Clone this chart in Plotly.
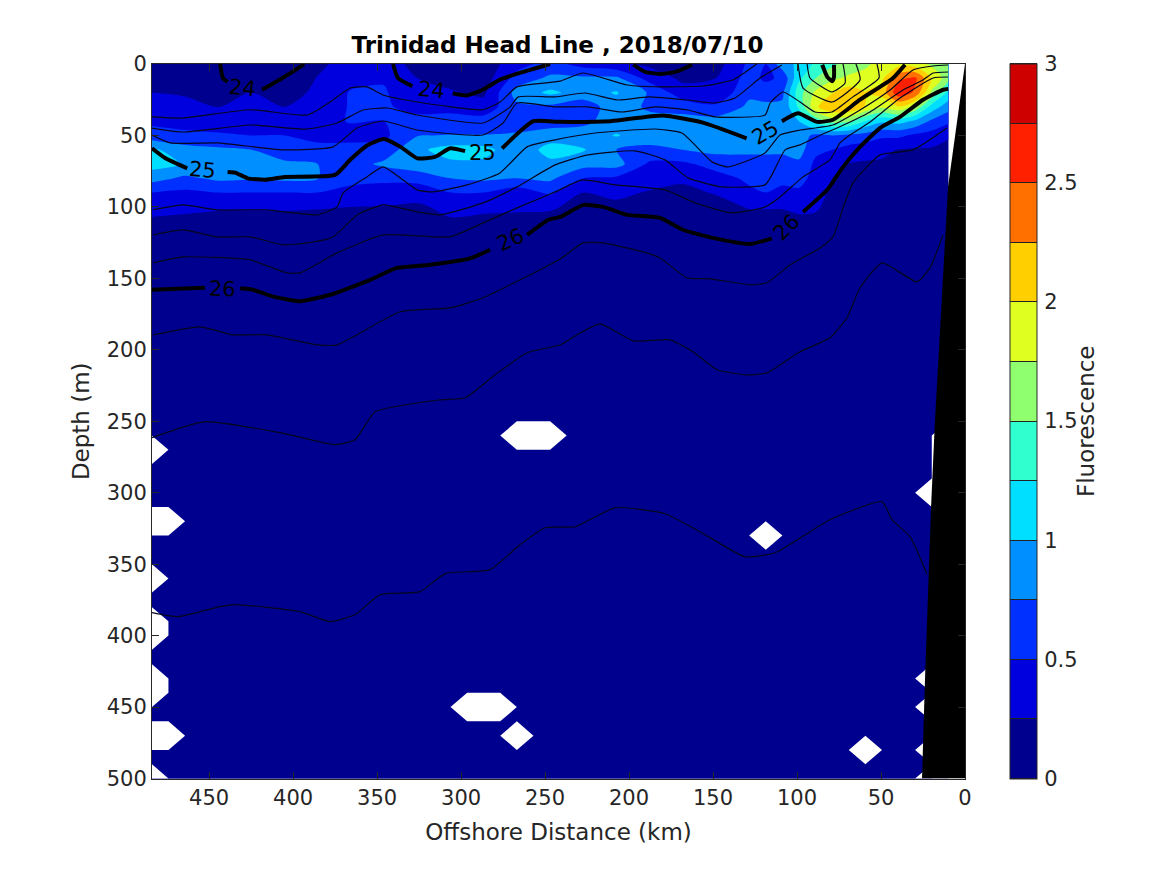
import plotly.graph_objects as go

FONT = "DejaVu Sans"
INK = "#262626"

depths = [0, 10, 20, 30, 40, 50, 60, 70, 80, 90, 100, 110, 120, 130, 150, 500]
station_km = [484.1, 464.4, 444.6, 424.8, 405.1, 385.3, 365.6, 345.8, 326.0, 306.3, 286.5, 266.8, 247.0,
              227.2, 207.5, 187.7, 168.0, 148.2, 128.4, 118.6, 108.7, 98.8, 88.9, 79.0, 69.2, 59.3, 49.4,
              39.5, 29.6, 19.8, 9.9]
deep_fluor = [0.12, 0.1]
fluor_by_station = [
    [.12, .15, .25, .35, .45, .6, 1.05, 1.1, .85, .5, .32, .22, .15, .12],
    [.1, .12, .22, .33, .42, .55, .85, .98, .7, .45, .3, .2, .15, .12],
    [.1, .1, .15, .24, .42, .52, .8, .98, .8, .5, .27, .2, .15, .12],
    [.1, .12, .25, .35, .42, .5, .75, .9, .78, .5, .27, .2, .15, .12],
    [.1, .1, .15, .25, .4, .5, .6, .8, .8, .5, .27, .2, .15, .12],
    [.2, .26, .3, .35, .4, .45, .55, .75, .76, .5, .26, .2, .15, .12],
    [.35, .42, .52, .52, .52, .4, .6, .65, .55, .45, .25, .2, .15, .12],
    [.4, .48, .52, .52, .5, .45, .6, .8, .55, .4, .24, .2, .15, .12],
    [.15, .25, .35, .45, .55, .74, .95, .9, .6, .33, .22, .2, .15, .12],
    [.1, .15, .28, .42, .6, .76, 1.1, .95, .75, .5, .3, .23, .15, .12],
    [.1, .12, .2, .35, .6, .76, 1.08, .95, .8, .5, .28, .22, .15, .12],
    [.4, .6, .85, .7, .55, .8, .85, .85, .75, .35, .28, .2, .15, .12],
    [.6, .8, 1.05, .7, .6, .9, 1.08, .95, .8, .55, .27, .2, .15, .12],
    [.4, .8, .9, .6, .7, .85, 1.02, .85, .5, .25, .2, .18, .15, .12],
    [.3, .8, 1.02, .9, .85, 1.02, .75, .85, .45, .3, .2, .18, .15, .12],
    [.2, .4, .72, .7, .85, .85, .7, .45, .35, .23, .2, .18, .14, .12],
    [.1, .2, .35, .65, .85, .9, .75, .45, .27, .22, .2, .18, .14, .12],
    [.15, .25, .3, .55, .85, .85, .82, .6, .4, .26, .2, .18, .14, .12],
    [.55, .6, .7, .8, .85, .9, .8, .65, .55, .45, .26, .2, .15, .12],
    [.5, .45, .65, .8, .9, .85, .8, .65, .6, .5, .26, .2, .15, .12],
    [.9, .55, .7, .8, .9, .95, .8, .65, .6, .4, .26, .2, .15, .12],
    [1.05, 1.2, 1.4, 1.3, 1.0, .85, .85, .7, .6, .45, .3, .2, .15, .12],
    [1.3, 1.5, 1.8, 1.95, 1.35, .7, .55, .45, .4, .35, .28, .2, .15, .12],
    [1.45, 1.7, 1.98, 2.25, 1.6, .75, .5, .3, .25, .2, .18, .16, .14, .12],
    [1.6, 1.8, 2.15, 2.25, 1.55, .7, .4, .24, .2, .18, .16, .15, .14, .12],
    [1.7, 1.85, 2.0, 1.98, 1.25, .65, .35, .22, .2, .18, .16, .15, .14, .12],
    [1.85, 1.95, 2.1, 1.8, 1.05, .55, .3, .22, .2, .18, .16, .15, .13, .12],
    [1.9, 2.45, 2.7, 1.98, 1.1, .55, .24, .2, .18, .16, .15, .14, .12, .12],
    [1.85, 2.55, 2.45, 1.7, .95, .45, .22, .2, .18, .16, .15, .14, .12, .12],
    [1.7, 1.98, 1.7, 1.15, .7, .4, .22, .2, .18, .16, .14, .13, .12, .12],
    [1.55, 1.6, 1.2, .85, .55, .27, .2, .18, .16, .15, .14, .13, .12, .12],
]

level_colors = ["rgb(0,0,143)", "rgb(0,0,223)", "rgb(0,48,255)", "rgb(0,143,255)", "rgb(0,223,255)",
                "rgb(48,255,207)", "rgb(143,255,112)", "rgb(223,255,32)", "rgb(255,207,0)",
                "rgb(255,112,0)", "rgb(255,32,0)", "rgb(207,0,0)"]

missing_runs = [
    (484.1, 484.1, 270, 270), (484.1, 474.2, 320, 320), (484.1, 484.1, 360, 360), (484.1, 484.1, 390, 400),
    (484.1, 484.1, 430, 440), (484.1, 474.2, 470, 470), (484.1, 484.1, 500, 500),
    (266.8, 247.0, 260, 260), (296.4, 276.7, 450, 450), (266.8, 266.8, 470, 470),
    (118.6, 118.6, 330, 330), (59.3, 59.3, 480, 480),
    (19.8, 19.8, 300, 300), (19.8, 19.8, 430, 430), (19.8, 19.8, 450, 450),
    (19.8, 19.8, 480, 480), (19.8, 19.8, 500, 500), (9.9, 9.9, 260, 500),
]
cell_km = 9.88
cell_m = 10

bottom_km = [0, 10.1, 17.9, 20.2, 23.8, 25.6, 0]
bottom_depth = [0, 86, 250, 310, 430, 500, 500]

s24a_km = [443.5, 441.7, 439, None, 418.5, 408, 394.6, 393.5]
s24a_d = [0, 10, 12.5, None, 18, 11, 1, 0]
s24b_km = [340.5, 337.5, 329, None, 305, 296.5, 287, 277, 263, 247]
s24b_d = [0, 10, 15.5, None, 20.5, 22, 18, 11, 5.5, 0]
s24c_km = [197.5, 190.5, 180.5, 171, 162.5]
s24c_d = [0.5, 5.5, 7, 5, 0.5]
s24d_km = [85, 82, 79, 78, 78]
s24d_d = [0.5, 9, 12, 9, 0.5]
s25_km = [484, 476, 463, None, 439, 434.5, 427, 416.5, 405, 375, 366, 356, 346, 336, 326, 315.5, 306.5, 297.6, None,
          275.6, 257, 241, 211, 180, 156, 130, None, 109, 99.4, 88, 78.6, 62.5, 43, 35.7]
s25_d = [59, 66, 73, None, 75.5, 76, 80, 81, 79, 77.6, 67, 57, 52.5, 58, 66, 65, 59, 61, None,
         59, 40, 40.5, 40, 36, 41, 52, None, 40, 34.5, 40.5, 39, 25, 10, 0.5]
s26_km = [484, 461, 452.5, None, 431.5, 424, 411, 396, 378, 354, 339, 318.5, 294.6, 282.7, None, 260.7, 248, 241,
          227, 215.5, 201, 181.5, 168, 150, 128, 115, None, 96.4, 82, 72.6, 62.5, 50.6, 38.7, 25, 13, 10]
s26_d = [158, 157, 156.5, None, 157, 158, 163, 166, 161.5, 151, 143, 140.5, 136, 130, None, 119.6, 109, 107,
         98.6, 100, 105.6, 107.7, 116, 121.7, 126, 122, None, 103.5, 88, 72, 58, 44.8, 37, 25, 18, 17.5]

t1_km = [484, 465.5, 425.6, 391.7, 378, 366, 356, 346.4, 326, 287, 276.8, 266.7, 241, 227.4, 201, 181.5, 156, 138, 124]
t1_d = [37, 37.8, 32, 35.7, 26.6, 16.8, 16, 21.7, 26.6, 32, 26.6, 16, 12, 6.3, 14.7, 16, 15.4, 11, 0]
t2_km = [484, 465.5, 425.6, 391.7, 373.8, 358.3, 344, 326.2, 286.9, 270.8, 266, 244, 226.2, 206.5, 188.7, 164.9, 148.8,
         136.9, 122, 109]
t2_d = [44.8, 47.6, 42.7, 45.5, 41.3, 32.2, 30.8, 35.7, 41.3, 30, 23, 23, 20.3, 25.2, 23, 25.2, 27.3, 23.8, 9.8, 0.7]
t3_km = [484, 473.2, 445.2, 406, 376.2, 361.9, 346.4, 326.2, 286.9, 275, 266.7, 244, 224.4, 204.2, 184.5, 164.9, 148.8,
         119, 116, 108.3, 98.2, 89.3, 79.2, 66.7, 51.2, 52.4]
t3_d = [49.7, 55.2, 55.2, 60.1, 58, 44.8, 39.9, 46.2, 49.7, 41.3, 27.3, 30, 30, 33.6, 30, 32.2, 37, 35.7, 27.3, 19.6,
        26.6, 33.6, 33.6, 23, 9.8, 0]
t4_km = [483.3, 465.5, 445.2, 415.5, 385.7, 373.8, 370.2, 356, 346.4, 326.2, 316.7, 296.4, 276.8, 260.7, 244, 220.2,
         184.5, 168.5, 150.6, 141, 119, 110.1, 98.2, 78.6, 62.5, 44.6, 31, 19, 10.1]
t4_d = [102, 98.6, 102.1, 102.1, 105.6, 100, 90.2, 79, 72, 88.1, 89.5, 84.6, 76.2, 58, 53.1, 48.3, 45.5, 48.3, 68.5,
        72, 62.2, 49.7, 46.2, 42.7, 32.2, 18.2, 4.2, 1.4, 0.7]
t5_km = [483.3, 465.5, 445.2, 425.6, 406, 391.7, 376.2, 361.9, 346.4, 326.2, 312.5, 286.9, 266.7, 244, 224.4, 196.4,
         178.6, 164.9, 144.6, 119, 114.3, 107.1, 98.2, 83.3, 76.2, 56.5, 36.9, 25, 19, 10.1]
t5_d = [119.6, 116.1, 121, 121, 126.6, 125.2, 121, 105.6, 98.6, 103.5, 105.6, 97.2, 86, 70.6, 63.6, 60.8, 67.1, 79.7,
        86, 84.6, 76.2, 60.1, 56.6, 48.3, 44.8, 33.6, 18.2, 11.2, 6.3, 5.6]
t6_km = [483.3, 465.5, 425.6, 403.6, 395.8, 373.8, 346.4, 306.5, 286.9, 266.7, 244, 228, 208.3, 178.6, 160.7, 138.7,
         119, 110.1, 96.4, 80.4, 74.4, 68.5, 56.5, 38.7, 19, 10.1]
t6_d = [139.2, 135, 137.1, 146.2, 146.2, 132.2, 119.6, 121, 111.2, 100.7, 89.5, 81.1, 84.6, 88.1, 97.2, 104.2, 100,
        93, 79, 67.1, 55.2, 49.7, 40.6, 23.8, 9.8, 9.1]
t7_km = [483.3, 455.4, 435.7, 415.5, 385.7, 373.8, 336.3, 306.5, 286.9, 241, 227.4, 215.5, 191.7, 181.5, 165.5, 151.8,
         128, 117.9, 104.2, 86.3, 78.6, 72.6, 66.7, 50.6, 31, 10.7]
t7_d = [189.5, 183.9, 189.5, 189.5, 196.5, 196.5, 173.4, 170.6, 163.6, 136.4, 125.2, 125.2, 131.5, 135.7, 149.7, 150.3,
        154.5, 153.1, 140.6, 128.7, 121, 100.7, 83.2, 63.6, 60.1, 44.8]
t8_km = [484, 452.4, 407.7, 375, 363.1, 351.2, 312.5, 297.6, 279.8, 260.7, 241, 231, 217.3, 197.6, 175.6, 161.9, 147.6,
         129.8, 117.9, 98.2, 80.4, 70.2, 62.5, 49.4, 28.6, 20.8, 13.1]
t8_d = [261.5, 250.3, 258, 266.4, 262.9, 243.4, 235, 233.6, 217.5, 202.1, 196.5, 189.5, 181.8, 193.7, 193, 201.4, 214,
        217.5, 216.1, 201.4, 191.6, 177.6, 156.6, 139.2, 152.4, 142.7, 119.6]
t9_km = [484, 468.5, 443.5, 434.5, 395.8, 378, 363.1, 348.2, 324.4, 309.5, 282.7, 264.9, 250, 232.1, 208.3, 178.6,
         157.7, 131, 113.1, 80.4, 49.4, 43.5, 32.7, 22.6]
t9_d = [383.9, 386.7, 379.7, 378.3, 383.2, 390.2, 385.3, 371.3, 369.2, 356.6, 353.8, 336.4, 324.5, 323.8, 310.5, 314.7,
        327.3, 344.8, 342, 318.9, 306.3, 318.9, 330.8, 357.3]
n1_km = [94, 92.3, 79.2, 71.4, 72.6]
n1_d = [0, 9.8, 19.6, 13.3, 0]
n2_km = [99.4, 96.4, 79.2, 62.5, 64.9]
n2_d = [0, 16.8, 26.6, 11.2, 0]

label_text = ["24", "24", "25", "25", "25", "26", "26", "26"]
label_km = [430.4, 317.9, 453.9, 287.5, 119, 442.3, 270.8, 106]
label_d = [16.8, 18.2, 74.1, 62.2, 48.3, 157.3, 123, 114]
label_angle = [6, 6, 5, 0, -30, 2, -25, -45]

title_text = "Trinidad Head Line , 2018/07/10"
x_title = "Offshore Distance (km)"
y_title = "Depth (m)"
cb_title = "Fluorescence"
x_ticks = [450, 400, 350, 300, 250, 200, 150, 100, 50, 0]
y_ticks = [0, 50, 100, 150, 200, 250, 300, 350, 400, 450, 500]
cb_ticks = [0, 0.5, 1, 1.5, 2, 2.5, 3]

# ---------- assemble ----------
W, H = 1167, 875
L, R, T, B = 152, 965, 64, 778.5

z_rows = []
for i, d in enumerate(depths):
    if i < 14:
        z_rows.append([col[i] for col in fluor_by_station])
    else:
        z_rows.append([deep_fluor[i - 14]] * len(station_km))

scale = []
for i, c in enumerate(level_colors):
    scale.append([i / 12, c])
    scale.append([(i + 1) / 12, c])

common = dict(x=station_km, y=depths, z=z_rows, zmin=0, zmax=3, colorscale=scale, autocontour=False,
              contours=dict(start=0, end=3, size=0.25, coloring="fill", showlines=True))

fig = go.Figure()
fig.add_trace(go.Contour(**common, line=dict(width=1, color="#222222", smoothing=0), showscale=True,
                         colorbar=dict(x=1010 / W, xanchor="left",
                                       y=1 - B / H, yanchor="bottom", len=(B - T) / H, lenmode="fraction",
                                       thickness=27, thicknessmode="pixels", xpad=0, ypad=0,
                                       outlinewidth=1, outlinecolor=INK, tickvals=cb_ticks,
                                       ticktext=[str(v) for v in cb_ticks], ticks="outside", ticklen=3,
                                       tickcolor="rgba(0,0,0,0)",
                                       tickfont=dict(family=FONT, size=21, color=INK)),
                         hoverinfo="skip"))
fig.add_trace(go.Contour(**common, line=dict(width=0, smoothing=0.8), showscale=False, hoverinfo="skip"))

for a, b, d1, d2 in missing_runs:
    xs = [a + cell_km, a, b, b - cell_km, b, a, a + cell_km]
    ys = [d1, d1 - cell_m, d1 - cell_m, d1, d2 + cell_m, d2 + cell_m, d2]
    if d1 != d2:
        xs = [a + cell_km, a, a - cell_km, a - cell_km, a, a + cell_km]
        ys = [d1, d1 - cell_m, d1, d2, d2 + cell_m, d2]
    fig.add_trace(go.Scatter(x=xs, y=ys, mode="lines", fill="toself", fillcolor="white",
                             line=dict(width=0), showlegend=False, hoverinfo="skip"))

for xs, ys in [(t1_km, t1_d), (t2_km, t2_d), (t3_km, t3_d), (t4_km, t4_d), (t5_km, t5_d), (t6_km, t6_d),
               (t7_km, t7_d), (t8_km, t8_d), (t9_km, t9_d), (n1_km, n1_d), (n2_km, n2_d)]:
    fig.add_trace(go.Scatter(x=xs, y=ys, mode="lines",
                             line=dict(color="rgb(5,5,30)", width=1.2, shape="spline", smoothing=0.5),
                             showlegend=False, hoverinfo="skip"))
for xs, ys in [(s24a_km, s24a_d), (s24b_km, s24b_d), (s24c_km, s24c_d), (s24d_km, s24d_d),
               (s25_km, s25_d), (s26_km, s26_d)]:
    fig.add_trace(go.Scatter(x=xs, y=ys, mode="lines",
                             line=dict(color="black", width=4, shape="spline", smoothing=0.5),
                             connectgaps=False, showlegend=False, hoverinfo="skip"))

fig.add_trace(go.Scatter(x=bottom_km, y=bottom_depth, mode="lines", fill="toself", fillcolor="black",
                         line=dict(width=0, color="black"), showlegend=False, hoverinfo="skip"))

for t, x, y, a in zip(label_text, label_km, label_d, label_angle):
    fig.add_annotation(x=x, y=y, text=t, showarrow=False, textangle=a,
                       font=dict(family=FONT, size=21, color="black"))
fig.add_annotation(xref="paper", yref="paper", x=1101 / W, y=1 - 421 / H, text=cb_title,
                   showarrow=False, textangle=-90, font=dict(family=FONT, size=23, color=INK))

axis = dict(showline=True, linecolor=INK, linewidth=1, mirror="allticks", ticks="inside", ticklen=7,
            tickcolor=INK, tickwidth=1, showgrid=False, zeroline=False,
            tickfont=dict(family=FONT, size=21, color=INK))
fig.update_layout(
    width=W, height=H, margin=dict(l=0, r=0, t=0, b=0, autoexpand=False), paper_bgcolor="white",
    plot_bgcolor="white", showlegend=False,
    title=dict(text=title_text, x=(351 + 764) / 2 / W, xanchor="center", y=1 - 45 / H, yanchor="middle",
               font=dict(family=FONT, size=23, color="black", weight="bold")),
    xaxis=dict(**axis, domain=[L / W, R / W], range=[484, 0], tickvals=x_ticks,
               title=dict(text=x_title, font=dict(family=FONT, size=23, color=INK), standoff=15)),
    yaxis=dict(**axis, domain=[1 - B / H, 1 - T / H], range=[500, 0], tickvals=y_ticks,
               title=dict(text=y_title, font=dict(family=FONT, size=23, color=INK), standoff=10)),
)
fig.write_html("out.html", config={"displayModeBar": False}, post_script="document.body.style.margin='0';")
